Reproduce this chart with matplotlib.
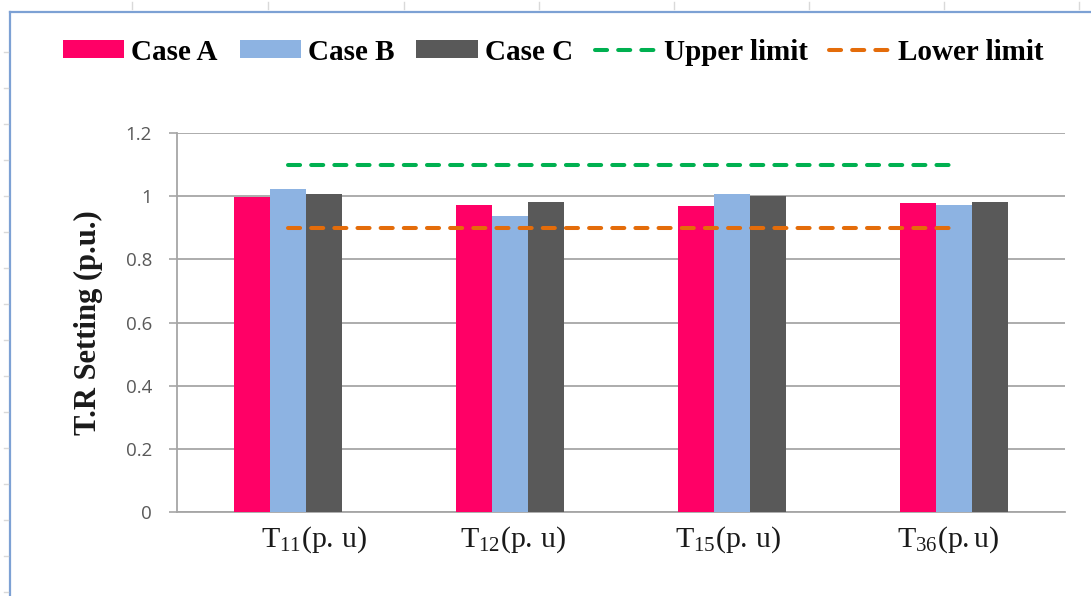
import matplotlib
matplotlib.use("Agg")
import matplotlib.pyplot as plt
import matplotlib.transforms as mtransforms
import numpy as np
from matplotlib.lines import Line2D
from matplotlib.patches import Patch

# ---- data ----
categories = [r"$\mathrm{T_{11}(p.\,u)}$", r"$\mathrm{T_{12}(p.\,u)}$",
              r"$\mathrm{T_{15}(p.\,u)}$", r"$\mathrm{T_{36}(p.u)}$"]
case_a = [0.997, 0.973, 0.968, 0.979]
case_b = [1.023, 0.938, 1.006, 0.973]
case_c = [1.006, 0.983, 1.000, 0.983]
upper_limit = [1.1, 1.1, 1.1, 1.1]
lower_limit = [0.9, 0.9, 0.9, 0.9]
series_names = ["Case A", "Case B", "Case C", "Upper limit", "Lower limit"]
y_ticks = [0, 0.2, 0.4, 0.6, 0.8, 1.0, 1.2]
y_tick_labels = ["0", "0.2", "0.4", "0.6", "0.8", "1", "1.2"]
y_label = "T.R Setting (p.u.)"

# ---- style ----
plt.rcParams["mathtext.fontset"] = "custom"
plt.rcParams["mathtext.rm"] = "Liberation Serif"
plt.rcParams["mathtext.it"] = "Liberation Serif:italic"
plt.rcParams["mathtext.bf"] = "Liberation Serif:bold"

col_a, col_b, col_c = "#FF0066", "#8DB3E2", "#595959"
col_up, col_lo = "#00B050", "#E46C0A"
grid_col = "#A6A6A6"

W, H = 1091, 596
fig = plt.figure(figsize=(W / 100, H / 100), dpi=100)
ax = fig.add_axes([177 / W, 84 / H, (1065 - 177) / W, (512 - 133) / H])

x = np.arange(len(categories))
bw = 0.1625
ax.bar(x - bw, case_a, bw, color=col_a, zorder=3)
ax.bar(x, case_b, bw, color=col_b, zorder=3)
ax.bar(x + bw, case_c, bw, color=col_c, zorder=3)

lw = 2.9
ax.plot(x, upper_limit, color=col_up, lw=lw, dashes=(3, 2.75),
        dash_capstyle="round", zorder=4)
ax.plot(x, lower_limit, color=col_lo, lw=lw, dashes=(3, 2.75),
        dash_capstyle="round", zorder=4)

ax.set_xlim(-0.5, len(categories) - 0.5)
ax.set_ylim(0, 1.2)
ax.set_yticks(y_ticks)
ax.set_yticklabels(y_tick_labels, fontfamily="Open Sans", fontsize=13.5, color="#595959")
ax.set_xticks(x)
ax.set_xticklabels(categories, fontsize=21.5, color="#1a1a1a")
ax.tick_params(axis="x", length=0, pad=9)
ax.tick_params(axis="y", length=6, width=1.2, color=grid_col, pad=12)
ax.yaxis.grid(True, color=grid_col, lw=1.3, zorder=0)
for s in ["top", "right"]:
    ax.spines[s].set_visible(False)
for s in ["left", "bottom"]:
    ax.spines[s].set_color(grid_col)
    ax.spines[s].set_linewidth(1.3)

# label offsets as in the original (first label sits right of its group)
label_shift_px = [26, 3, -4, -6]
for lab, dx in zip(ax.get_xticklabels(), label_shift_px):
    lab.set_transform(lab.get_transform() +
                      mtransforms.ScaledTranslation(dx / 100, 0, fig.dpi_scale_trans))

ax.set_ylabel(y_label, fontfamily="Liberation Serif", fontweight="bold",
              fontsize=22, color="#1a1a1a", labelpad=16)

# ---- legend ----
handles = [
    Patch(facecolor=col_a), Patch(facecolor=col_b), Patch(facecolor=col_c),
    Line2D([], [], color=col_up, lw=lw, dashes=(3, 2.75), dash_capstyle="round"),
    Line2D([], [], color=col_lo, lw=lw, dashes=(3, 2.75), dash_capstyle="round"),
]
fig.legend(handles, series_names, loc="center", bbox_to_anchor=(553 / W, 1 - 52 / H),
           ncol=5, frameon=False, handlelength=2.1, handleheight=0.6, handletextpad=0.25,
           columnspacing=0.75, prop={"family": "Liberation Serif", "weight": "bold", "size": 21})

# ---- frame (sheet border) ----
fc = "#7DA1D4"
fig.add_artist(Line2D([10 / W, 10 / W], [0, 1 - 12 / H], color=fc, lw=1.6,
                      transform=fig.transFigure))
fig.add_artist(Line2D([10 / W, 1], [1 - 12 / H, 1 - 12 / H], color=fc, lw=1.6,
                      transform=fig.transFigure))
for px in [132, 268, 404, 539, 674, 809, 944, 1079]:
    fig.add_artist(Line2D([px / W, px / W], [1 - 2 / H, 1 - 9 / H], color="#D9D9D9",
                          lw=1, transform=fig.transFigure))
for py in range(52, 596, 36):
    fig.add_artist(Line2D([4 / W, 8 / W], [1 - py / H, 1 - py / H], color="#D9D9D9",
                          lw=1, transform=fig.transFigure))

fig.savefig("out.png", dpi=100)
